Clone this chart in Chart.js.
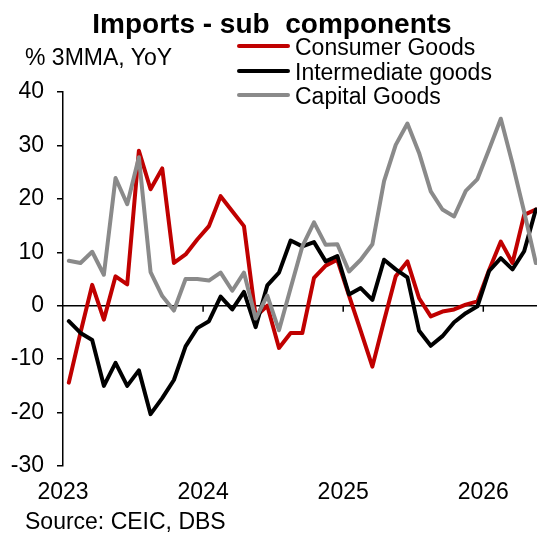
<!DOCTYPE html>
<html>
<head>
<meta charset="utf-8">
<script src="https://cdn.jsdelivr.net/npm/chart.js@4"></script>
<style>
  html, body { margin: 0; padding: 0; background: #fff; }
  #wrap { position: relative; width: 537px; height: 537px; overflow: hidden;
          font-family: "Liberation Sans", Arial, sans-serif; color: #000; }
  #wrap canvas { position: absolute; left: 0; top: 0; }
  .txt { position: absolute; white-space: nowrap; }
  #title { left: 0; width: 544px; top: 10px; text-align: center; font-weight: bold; font-size: 28px; line-height: 28px; }
  #unit { left: 25px; top: 46px; font-size: 23px; line-height: 23px; }
  #source { left: 25px; top: 510px; font-size: 23px; line-height: 23px; }
  #legend { left: 237px; top: 35px; }
  .row { position: relative; height: 24.7px; }
  .row .swatch { position: absolute; left: 0; top: 9px; width: 53px; height: 4px; border-radius: 2px; }
  .row .lab { position: absolute; left: 58px; top: 1px; font-size: 23px; line-height: 23px; }
</style>
</head>
<body>
<div id="wrap">
  <canvas id="chart" width="537" height="537"></canvas>
  <div class="txt" id="title">Imports - sub&nbsp; components</div>
  <div class="txt" id="unit">% 3MMA, YoY</div>
  <div class="txt" id="legend"></div>
  <div class="txt" id="source">Source: CEIC, DBS</div>
</div>
<script>
// monthly points, Jan 2023 onwards (index 0 = Jan 2023)
const yearLabels = ["2023", "2024", "2025", "2026"];

const consumerGoods = [
  -14.4, -5.0, 3.9, -2.6, 5.5, 4.0, 29.0, 21.8, 25.7, 8.0, 9.6, 12.4,
  14.9, 20.5, 17.7, 14.9, -2.0, 0.0, -7.9, -5.1, -5.1, 5.2, 7.5, 8.6,
  1.9, -4.7, -11.4, -2.8, 5.5, 8.3, 1.4, -2.0, -1.1, -0.7, 0.2, 0.8,
  6.7, 12.0, 8.0, 17.0, 18.0
];
const intermediateGoods = [
  -2.9, -5.1, -6.4, -15.0, -10.7, -15.0, -12.1, -20.3, -17.3, -13.9, -7.6, -4.2,
  -2.9, 1.7, -0.7, 2.6, -4.0, 3.8, 6.2, 12.2, 11.1, 11.9, 8.3, 9.3,
  2.1, 3.3, 1.1, 8.6, 6.8, 5.3, -4.7, -7.5, -5.7, -3.1, -1.4, -0.1,
  6.5, 8.9, 6.8, 10.2, 18.0
];
const capitalGoods = [
  8.4, 8.0, 10.1, 5.8, 23.9, 19.0, 27.8, 6.3, 1.8, -0.9, 5.0, 5.0,
  4.7, 6.2, 2.8, 6.2, -2.4, 1.9, -4.6, 3.3, 11.1, 15.6, 11.4, 11.5,
  6.4, 8.6, 11.5, 23.3, 30.1, 34.1, 28.6, 21.4, 18.0, 16.7, 21.5, 23.7,
  29.3, 35.0, 26.6, 17.6, 8.0
];

const seriesNames = ["Consumer Goods", "Intermediate goods", "Capital Goods"];
const seriesColors = ["#C00000", "#000000", "#8A8A8A"];
const seriesData = [consumerGoods, intermediateGoods, capitalGoods];

const toPoints = arr => arr.map((v, i) => ({ x: i, y: v }));

// legend (html text)
const legendEl = document.getElementById("legend");
seriesNames.forEach((name, k) => {
  const row = document.createElement("div");
  row.className = "row";
  const sw = document.createElement("span");
  sw.className = "swatch";
  sw.style.background = seriesColors[k];
  const lab = document.createElement("span");
  lab.className = "lab";
  lab.textContent = name;
  row.appendChild(sw);
  row.appendChild(lab);
  legendEl.appendChild(row);
});

// zero line + x tick marks sit on the 0 line
const zeroAxis = {
  id: "zeroAxis",
  beforeDatasetsDraw(chart) {
    const { ctx, chartArea, scales } = chart;
    const y0 = scales.y.getPixelForValue(0);
    ctx.save();
    ctx.strokeStyle = "#000";
    ctx.lineWidth = 1.5;
    ctx.beginPath();
    ctx.moveTo(chartArea.left, y0);
    ctx.lineTo(chartArea.right, y0);
    yearLabels.forEach((_, k) => {
      if (k === 0) return;
      const x = scales.x.getPixelForValue(k * 12 - 0.5);
      ctx.moveTo(x, y0);
      ctx.lineTo(x, y0 + 6);
    });
    ctx.stroke();
    ctx.restore();
  }
};

Chart.defaults.font.family = '"Liberation Sans", Arial, sans-serif';
Chart.defaults.font.size = 23;
Chart.defaults.color = "#000";

new Chart(document.getElementById("chart"), {
  type: "line",
  data: {
    datasets: seriesData.map((arr, k) => ({
      label: seriesNames[k],
      data: toPoints(arr),
      borderColor: seriesColors[k],
      backgroundColor: seriesColors[k],
      borderWidth: 4,
      pointRadius: 0,
      tension: 0,
      borderJoinStyle: "round",
      borderCapStyle: "round",
      order: 2 - k
    }))
  },
  options: {
    responsive: false,
    animation: false,
    layout: { padding: { top: 92, bottom: 28, left: 11, right: 0 } },
    plugins: { legend: { display: false }, title: { display: false }, tooltip: { enabled: false } },
    scales: {
      x: {
        type: "linear",
        min: -0.5,
        max: 40.1,
        border: { display: false },
        grid: { display: false, drawTicks: false },
        afterBuildTicks: scale => {
          scale.ticks = yearLabels.map((_, k) => ({ value: k * 12 - 0.5 }));
        },
        afterFit: scale => { scale.height = 43; },
        ticks: {
          autoSkip: false,
          maxRotation: 0,
          padding: 13,
          callback: value => yearLabels[Math.round((value + 0.5) / 12)]
        }
      },
      y: {
        min: -30,
        max: 40,
        border: { display: true, color: "#000", width: 1.5 },
        grid: { drawOnChartArea: false, drawTicks: true, tickLength: 6, color: "#000", lineWidth: 1.5 },
        afterFit: scale => { scale.width = 52; },
        ticks: { stepSize: 10, padding: 13 }
      }
    }
  },
  plugins: [zeroAxis]
});
</script>
</body>
</html>
